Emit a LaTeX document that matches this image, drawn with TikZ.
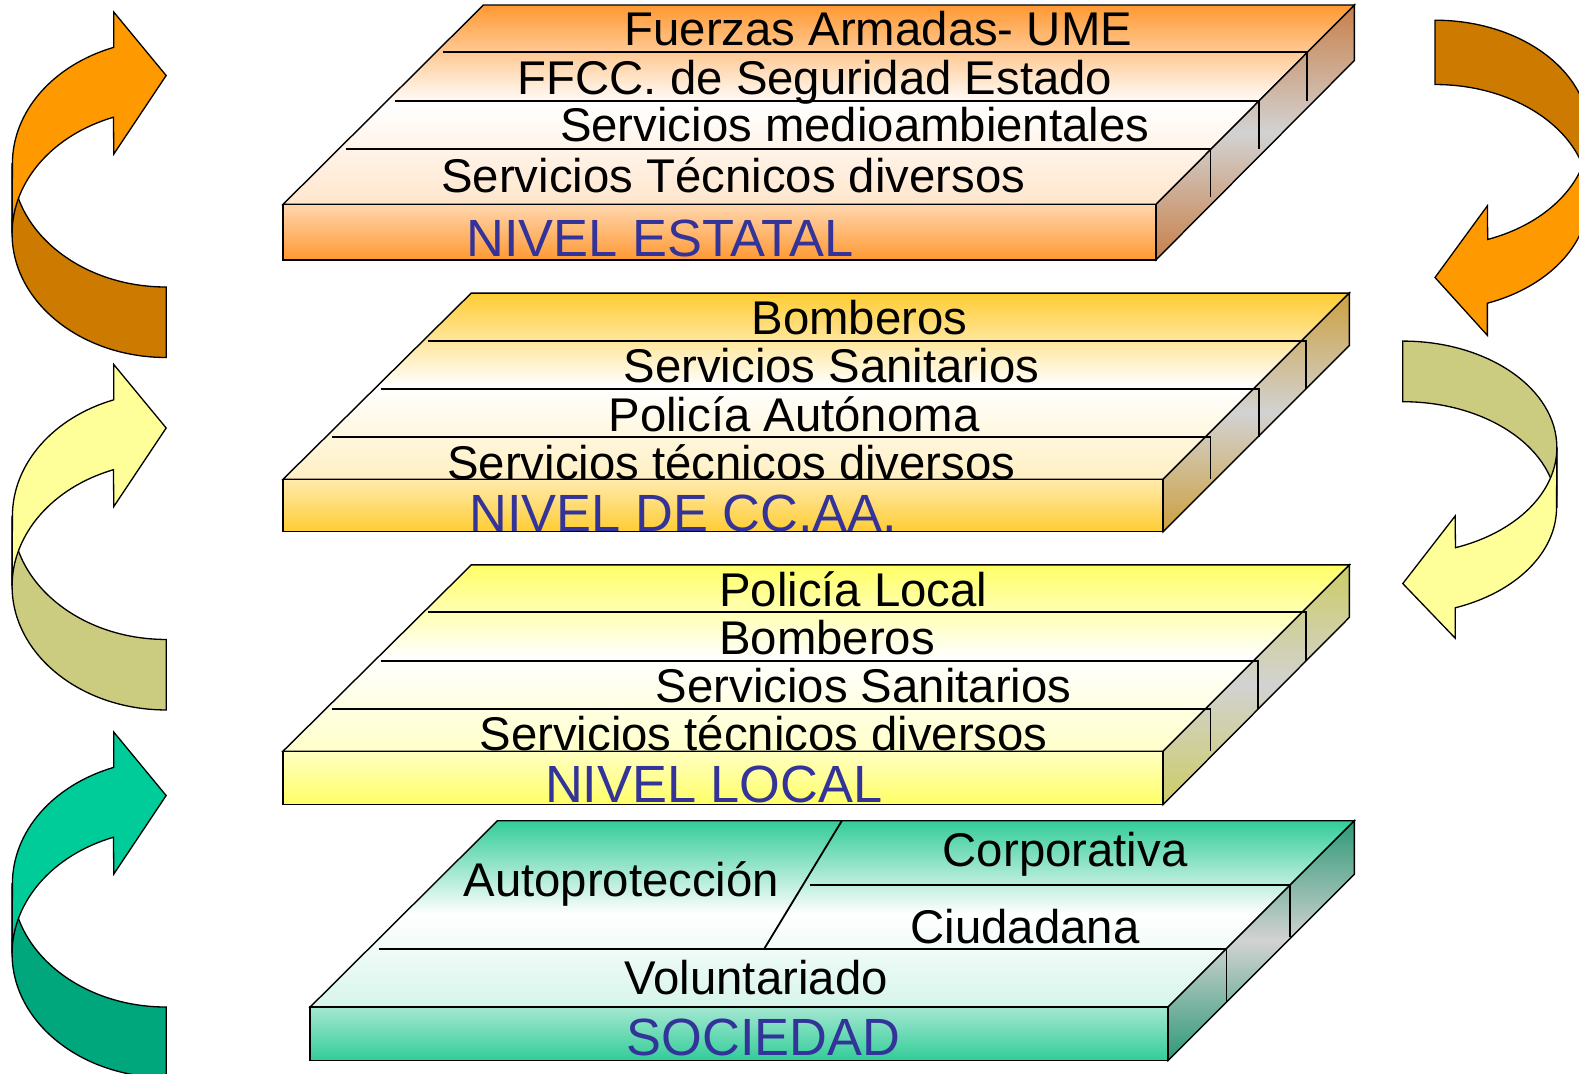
\documentclass[tikz,border=0pt]{standalone}
\usepackage{fontspec}
\setmainfont{Liberation Sans}
\definecolor{lvlblue}{RGB}{51,51,153}
\definecolor{estatal}{RGB}{255,153,51}
\definecolor{estatalside}{RGB}{200,128,74}
\definecolor{ccaa}{RGB}{255,204,51}
\definecolor{ccaaside}{RGB}{204,160,64}
\definecolor{local}{RGB}{255,255,102}
\definecolor{localside}{RGB}{204,204,102}
\definecolor{sociedad}{RGB}{51,204,153}
\definecolor{sociedadside}{RGB}{46,153,119}
\definecolor{arrorange}{RGB}{255,153,0}
\definecolor{arrorangedark}{RGB}{204,122,0}
\definecolor{arryellow}{RGB}{255,255,153}
\definecolor{arrolive}{RGB}{204,204,128}
\definecolor{arrteal}{RGB}{0,204,153}
\definecolor{arrtealdark}{RGB}{0,166,124}
\newcommand\bentarrow[3]{%
  \begin{scope}[#1]
    \path[arrowline,fill=#3] (12,232) arc[start angle=180,end angle=90,x radius=153,y radius=123]
      -- (165,285) arc[start angle=90,end angle=180,x radius=153,y radius=123] -- cycle;
    \path[arrowline,fill=#2] (113,47) arc[start angle=250,end angle=180,x radius=153,y radius=123]
      -- (12,232) arc[start angle=180,end angle=250,x radius=153,y radius=123]
      -- (113,153) -- (165,75) -- (113,12) -- cycle;
  \end{scope}}
\begin{document}
\begin{tikzpicture}[x=1pt,y=-1pt]
  \tikzstyle{item}=[anchor=base west,inner sep=0pt,font=\fontsize{47}{50}\selectfont]
  \tikzstyle{level}=[anchor=base west,inner sep=0pt,text=lvlblue,font=\fontsize{52}{55}\selectfont]
  \tikzstyle{face}=[draw=black,line width=1.4pt,line join=miter]
  \tikzstyle{divider}=[draw=black,line width=1.8pt]
  \tikzstyle{arrowline}=[draw=black,line width=1.3pt,line join=miter]
  \useasboundingbox (0,0) rectangle (1568,1066);
  \begin{scope}
    \path[face,top color=estatal,bottom color=estatal!25,middle color=white] (480,5) -- (1345,5) -- (1148,203) -- (281,203) -- cycle;
    \path[face,top color=estatal!40,bottom color=estatal] (281,203) rectangle (1148,258);
    \path[face,top color=estatalside,bottom color=estatalside,middle color=gray!35] (1148,203) -- (1345,5) -- (1345,60) -- (1148,258) -- cycle;
    \path[divider] (440,52) -- (1298,52) -- (1298,100);
    \path[divider] (392,100) -- (1250,100) -- (1250,148);
    \path[divider] (344,148) -- (1202,148) -- (1202,196);
    \node [item] (est1) at (620,45) {Fuerzas Armadas- UME};
    \node [item] (est2) at (514,94) {FFCC. de Seguridad Estado};
    \node [item] (est3) at (556,141) {Servicios medioambientales};
    \node [item] (est4) at (438,191) {Servicios Técnicos diversos};
    \node [level] (estlbl) at (463,255) {NIVEL ESTATAL};
  \end{scope}
  \begin{scope}
    \path[face,top color=ccaa,bottom color=ccaa!30,middle color=white] (468,291) -- (1340,291) -- (1155,476) -- (281,476) -- cycle;
    \path[face,top color=ccaa!40,bottom color=ccaa] (281,476) rectangle (1155,528);
    \path[face,top color=ccaaside,bottom color=ccaaside,middle color=gray!35] (1155,476) -- (1340,291) -- (1340,343) -- (1155,528) -- cycle;
    \path[divider] (425,339) -- (1297,339) -- (1297,386);
    \path[divider] (378,386) -- (1250,386) -- (1250,434);
    \path[divider] (330,434) -- (1202,434) -- (1202,476);
    \node [item] (aut1) at (746,332) {Bomberos};
    \node [item] (aut2) at (619,380) {Servicios Sanitarios};
    \node [item] (aut3) at (604,428) {Policía Autónoma};
    \node [item] (aut4) at (444,476) {Servicios técnicos diversos};
    \node [level] (autlbl) at (466,528) {NIVEL DE CC.AA.};
  \end{scope}
  \begin{scope}
    \path[face,top color=local,bottom color=local!35,middle color=white] (468,561) -- (1340,561) -- (1155,746) -- (281,746) -- cycle;
    \path[face,top color=local!40,bottom color=local] (281,746) rectangle (1155,799);
    \path[face,top color=localside,bottom color=localside,middle color=gray!35] (1155,746) -- (1340,561) -- (1340,613) -- (1155,799) -- cycle;
    \path[divider] (425,608) -- (1297,608) -- (1297,656);
    \path[divider] (378,656) -- (1249,656) -- (1249,704);
    \path[divider] (330,704) -- (1202,704) -- (1202,746);
    \node [item] (loc1) at (714,602) {Policía Local};
    \node [item] (loc2) at (714,650) {Bomberos};
    \node [item] (loc3) at (651,698) {Servicios Sanitarios};
    \node [item] (loc4) at (476,745) {Servicios técnicos diversos};
    \node [level] (loclbl) at (541,797) {NIVEL LOCAL};
  \end{scope}
  \begin{scope}
    \path[face,top color=sociedad,bottom color=sociedad!20,middle color=white] (494,815) -- (1345,815) -- (1160,1000) -- (308,1000) -- cycle;
    \path[face,top color=sociedad!45,bottom color=sociedad] (308,1000) rectangle (1160,1053);
    \path[face,top color=sociedadside,bottom color=sociedadside,middle color=gray!35] (1160,1000) -- (1345,815) -- (1345,868) -- (1160,1053) -- cycle;
    \path[divider] (836,815) -- (759,942);
    \path[divider] (804,879) -- (1281,879) -- (1281,930);
    \path[divider] (376,942) -- (1218,942) -- (1218,995);
    \node [item] (soc1) at (936,860) {Corporativa};
    \node [item] (soc2) at (460,890) {Autoprotección};
    \node [item] (soc3) at (904,937) {Ciudadana};
    \node [item] (soc4) at (620,988) {Voluntariado};
    \node [level] (soclbl) at (622,1048) {SOCIEDAD};
  \end{scope}
  \bentarrow{}{arrorange}{arrorangedark}
  \bentarrow{shift={(0,350)}}{arryellow}{arrolive}
  \bentarrow{shift={(0,715)}}{arrteal}{arrtealdark}
  \bentarrow{shift={(1590,344)},xscale=-1,yscale=-0.9125}{arrorange}{arrorangedark}
  \bentarrow{shift={(1558,644)},xscale=-1,yscale=-0.86}{arryellow}{arrolive}
\end{tikzpicture}
\end{document}
